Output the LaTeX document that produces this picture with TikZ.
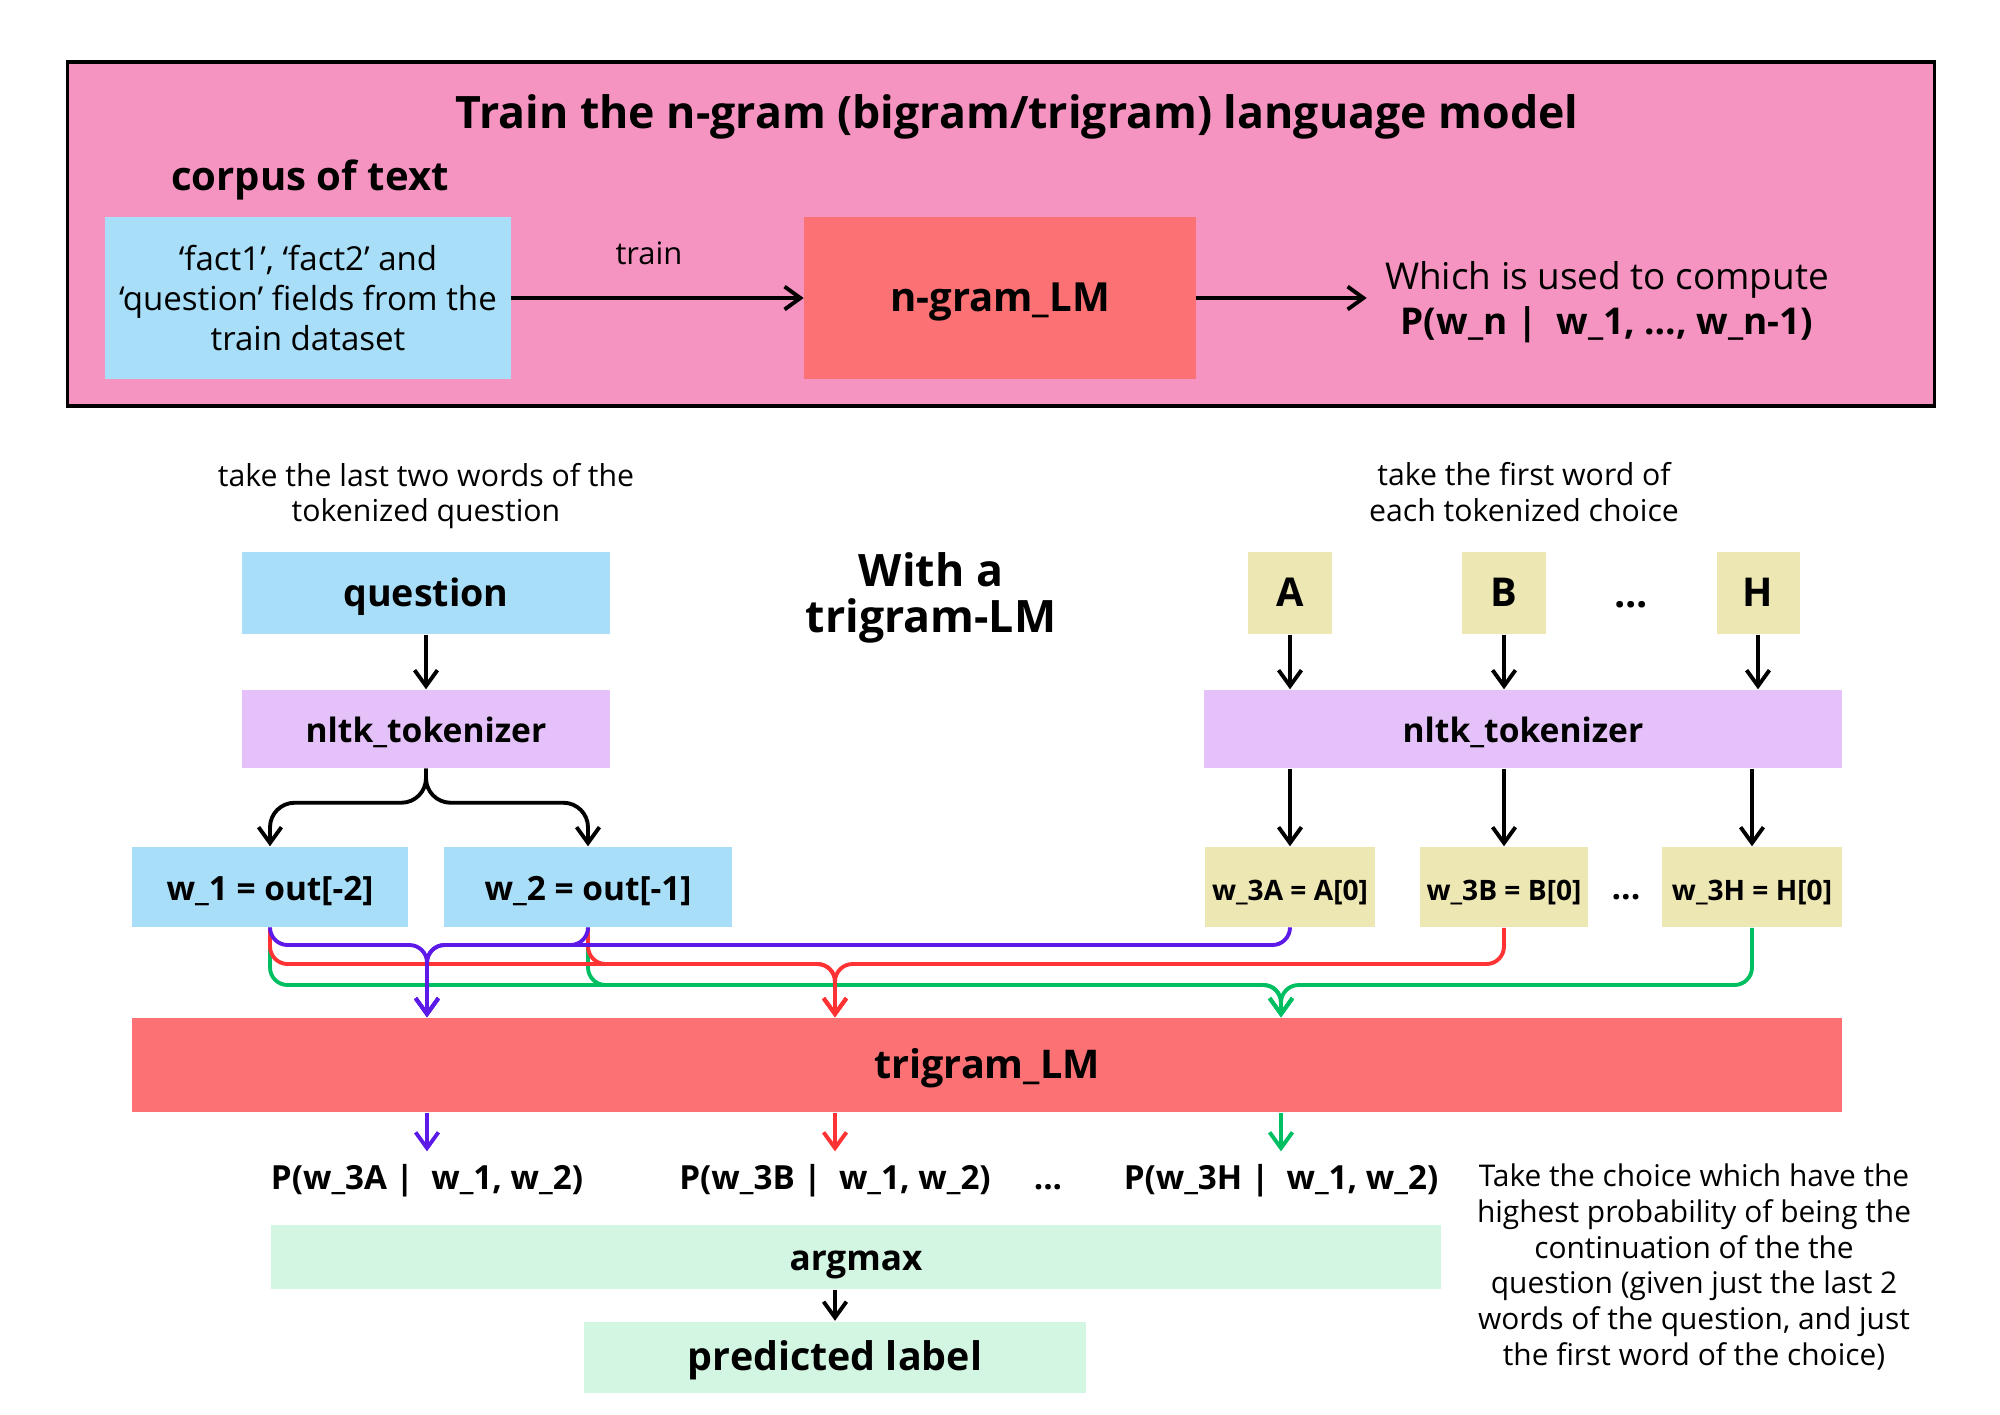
\documentclass[tikz,border=0pt]{standalone}
\usepackage{fontspec}
\setmainfont{Open Sans}
\usepackage{xcolor}
\usetikzlibrary{arrows.meta, positioning}

\definecolor{pinkbg}{RGB}{245,148,192}
\definecolor{skyblue}{RGB}{168,222,248}
\definecolor{salmon}{RGB}{252,114,116}
\definecolor{lavender}{RGB}{228,193,248}
\definecolor{khaki}{RGB}{237,231,180}
\definecolor{mint}{RGB}{211,246,226}
\definecolor{purpline}{RGB}{92,25,232}
\definecolor{redline}{RGB}{255,51,51}
\definecolor{greenline}{RGB}{0,191,99}

\newcommand{\fsz}[2]{\fontsize{#1pt}{#2pt}\selectfont}

\begin{document}
\begin{tikzpicture}[x=0.01cm, y=-0.01cm,
    box/.style={rectangle, inner sep=0pt, align=center},
    line/.style={text height=1.07em, text depth=0.29em},
    conn/.style={->, line width=1.1pt, black},
    pconn/.style={->, line width=1.1pt, purpline, rounded corners=5pt},
    rconn/.style={->, line width=1.1pt, redline, rounded corners=5pt},
    gconn/.style={->, line width=1.1pt, greenline, rounded corners=5pt},
    >={Straight Barb[length=4.5pt,width=6.5pt]}
]
\useasboundingbox (0,0) rectangle (2000,1414);

\node[draw=black, line width=1pt, fill=pinkbg, minimum width=18.66cm, minimum height=3.44cm] (frame) at (1001,234) {};
\node[line, font=\fsz{12.7}{15}\bfseries] (title) at (1017,115) {Train the n-gram (bigram/trigram) language model};
\node[line, font=\fsz{11.4}{14}\bfseries] (corpus) at (310,177) {corpus of text};
\node[box, fill=skyblue, minimum width=4.05cm, minimum height=1.61cm, font=\fsz{9.4}{11.4}] (facts) at (308,298) {‘fact1’, ‘fact2’ and\\‘question’ fields from the\\train dataset};
\node[box, line, fill=salmon, minimum width=3.91cm, minimum height=1.61cm, font=\fsz{11.4}{14}\bfseries] (ngram) at (1000,298) {n-gram\_LM};
\node[inner sep=5pt, font=\fsz{10.5}{12.6}, align=center] (compute) at (1607,302) {Which is used to compute\\\textbf{P(w\_n |\ \ w\_1, …, w\_n-1)}};
\node[font=\fsz{8.8}{11}] (trainlbl) at (649,253) {train};

\draw[conn] (facts) -- (ngram);
\draw[conn] (ngram) -- (compute.west |- ngram);

\node[font=\fsz{8.6}{10.2}, align=center] (noteq) at (426,496) {take the last two words of the\\tokenized question};
\node[box, line, fill=skyblue, minimum width=3.68cm, minimum height=0.82cm, font=\fsz{10.7}{13}\bfseries] (question) at (426,593) {question};
\node[box, line, fill=lavender, minimum width=3.68cm, minimum height=0.78cm, font=\fsz{9.55}{12}\bfseries] (tokq) at (426,729) {nltk\_tokenizer};
\node[font=\fsz{12.7}{12.9}\bfseries, align=center] (witha) at (931,598) {With a\\trigram-LM};
\node[font=\fsz{8.6}{10.2}, align=center] (notec) at (1524,492) {take the first word of\\each tokenized choice};

\node[box, line, fill=khaki, minimum width=0.83cm, minimum height=0.82cm, font=\fsz{11.3}{13}\bfseries] (A) at (1290,593) {A};
\node[box, line, fill=khaki, minimum width=0.83cm, minimum height=0.82cm, font=\fsz{11.3}{13}\bfseries] (B) at (1504,593) {B};
\node[font=\fsz{11.3}{13}\bfseries] (dotsc) at (1631,605) {...};
\node[box, line, fill=khaki, minimum width=0.83cm, minimum height=0.82cm, font=\fsz{11.3}{13}\bfseries] (H) at (1758,593) {H};
\node[box, line, fill=lavender, minimum width=6.37cm, minimum height=0.78cm, font=\fsz{9.55}{12}\bfseries] (tokc) at (1523,729) {nltk\_tokenizer};

\node[box, line, fill=skyblue, minimum width=2.75cm, minimum height=0.8cm, font=\fsz{9.5}{12}\bfseries] (w1) at (270,887) {w\_1 = out[-2]};
\node[box, line, fill=skyblue, minimum width=2.87cm, minimum height=0.8cm, font=\fsz{9.5}{12}\bfseries] (w2) at (588,887) {w\_2 = out[-1]};
\node[box, line, fill=khaki, minimum width=1.69cm, minimum height=0.8cm, font=\fsz{8}{10}\bfseries] (w3a) at (1290,887) {w\_3A = A[0]};
\node[box, line, fill=khaki, minimum width=1.67cm, minimum height=0.8cm, font=\fsz{8}{10}\bfseries] (w3b) at (1504,887) {w\_3B = B[0]};
\node[font=\fsz{9.6}{12}\bfseries] (dotsw) at (1626,897) {...};
\node[box, line, fill=khaki, minimum width=1.79cm, minimum height=0.8cm, font=\fsz{8}{10}\bfseries] (w3h) at (1752,887) {w\_3H = H[0]};

\node[box, line, fill=salmon, minimum width=17.09cm, minimum height=0.94cm, font=\fsz{11.25}{14}\bfseries] (tri) at (987,1065) {trigram\_LM};

\node[line, inner sep=0pt, font=\fsz{9.45}{11}\bfseries] (pa) at (427,1176) {P(w\_3A |\ \ w\_1, w\_2)};
\node[line, inner sep=0pt, font=\fsz{9.45}{11}\bfseries] (pb) at (835,1176) {P(w\_3B |\ \ w\_1, w\_2)};
\node[font=\fsz{9.45}{11}\bfseries] (dotsp) at (1048,1187) {...};
\node[line, inner sep=0pt, font=\fsz{9.45}{11}\bfseries] (ph) at (1281,1176) {P(w\_3H |\ \ w\_1, w\_2)};
\node[font=\fsz{8.5}{10.15}, align=center] (notech) at (1694,1267) {Take the choice which have the\\highest probability of being the\\continuation of the the\\question (given just the last 2\\words of the question, and just\\the first word of the choice)};

\node[box, line, fill=mint, minimum width=11.7cm, minimum height=0.64cm, font=\fsz{10}{12}\bfseries] (argmax) at (856,1257) {argmax};
\node[box, line, fill=mint, minimum width=5.02cm, minimum height=0.71cm, font=\fsz{11.2}{14}\bfseries] (pred) at (835,1357) {predicted label};

\draw[conn] (question) -- (tokq);
\draw[conn, rounded corners=7pt] (tokq.south) -- ++(0,34) -| (w1.north);
\draw[conn, rounded corners=7pt] (tokq.south) -- ++(0,34) -| (w2.north);
\foreach \c in {A,B,H}
  \draw[conn] (\c) -- (\c |- tokc.north);
\foreach \w in {w3a,w3b,w3h}
  \draw[conn] (\w |- tokc.south) -- (\w);

\coordinate (pm) at (427,945);
\coordinate (rm) at (835,964);
\coordinate (gm) at (1281,985);
\foreach \s in {w1,w2,w3h}
  \draw[gconn] (\s.south) |- (gm) -- (gm |- tri.north);
\foreach \s in {w1,w2,w3b}
  \draw[rconn] (\s.south) |- (rm) -- (rm |- tri.north);
\foreach \s in {w1,w2,w3a}
  \draw[pconn] (\s.south) |- (pm) -- (pm |- tri.north);

\draw[pconn] (pm |- tri.south) -- (pa.north);
\draw[rconn] (rm |- tri.south) -- (pb.north);
\draw[gconn] (gm |- tri.south) -- (ph.north);
\draw[conn] (pred.north |- argmax.south) -- (pred.north);
\end{tikzpicture}
\end{document}
